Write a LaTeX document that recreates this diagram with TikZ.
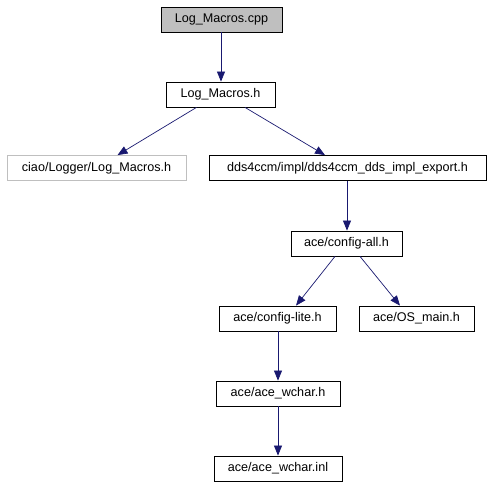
\documentclass[tikz,border=0pt]{standalone}
\usepackage{fontspec}
\setmainfont{Liberation Sans}
\usetikzlibrary{arrows.meta}
\definecolor{edgeblue}{HTML}{191970}
\definecolor{boxgray}{HTML}{BFBFBF}
\begin{document}
\begin{tikzpicture}[x=1pt,y=-1pt,
  box/.style={draw=black,fill=white,line width=0.8pt,inner sep=0pt,minimum height=25pt,font=\fontsize{12.6}{14}\selectfont},
  graybox/.style={box,draw=boxgray},
  curbox/.style={box,fill=boxgray},
  dep/.style={draw=edgeblue,line width=0.7pt,-{Triangle[length=10pt,width=8pt]}}]
\useasboundingbox (0,0) rectangle (491,485);
\node[curbox,minimum width=121pt] (n1) at (221.5,19.5) {Log\_Macros.cpp};
\node[box,minimum width=109pt] (n2) at (220.5,94.5) {Log\_Macros.h};
\node[graybox,minimum width=179pt] (n3) at (96.5,168) {ciao/Logger/Log\_Macros.h};
\node[box,minimum width=277pt] (n4) at (347.5,168) {dds4ccm/impl/dds4ccm\_dds\_impl\_export.h};
\node[box,minimum width=111pt] (n5) at (346.5,243.5) {ace/config-all.h};
\node[box,minimum width=117pt] (n6) at (277.5,318.5) {ace/config-lite.h};
\node[box,minimum width=115pt] (n7) at (416.5,318.5) {ace/OS\_main.h};
\node[box,minimum width=124pt] (n8) at (278,393.5) {ace/ace\_wchar.h};
\node[box,minimum width=128pt] (n9) at (278,468.5) {ace/ace\_wchar.inl};
\draw[dep] ([xshift=-0.5pt]n1.south) -- ([xshift=0.5pt]n2.north);
\draw[dep] ([xshift=-24pt]n2.south) -- ([xshift=21pt]n3.north);
\draw[dep] ([xshift=24.5pt]n2.south) -- ([xshift=-22.5pt]n4.north);
\draw[dep] ([xshift=-0.5pt]n4.south) -- ([xshift=0.5pt]n5.north);
\draw[dep] ([xshift=-11.5pt]n5.south) -- ([xshift=18.5pt]n6.north);
\draw[dep] ([xshift=13.5pt]n5.south) -- ([xshift=-16.5pt]n7.north);
\draw[dep] ([xshift=0.5pt]n6.south) -- (n8.north);
\draw[dep] (n8.south) -- (n9.north);
\end{tikzpicture}
\end{document}
